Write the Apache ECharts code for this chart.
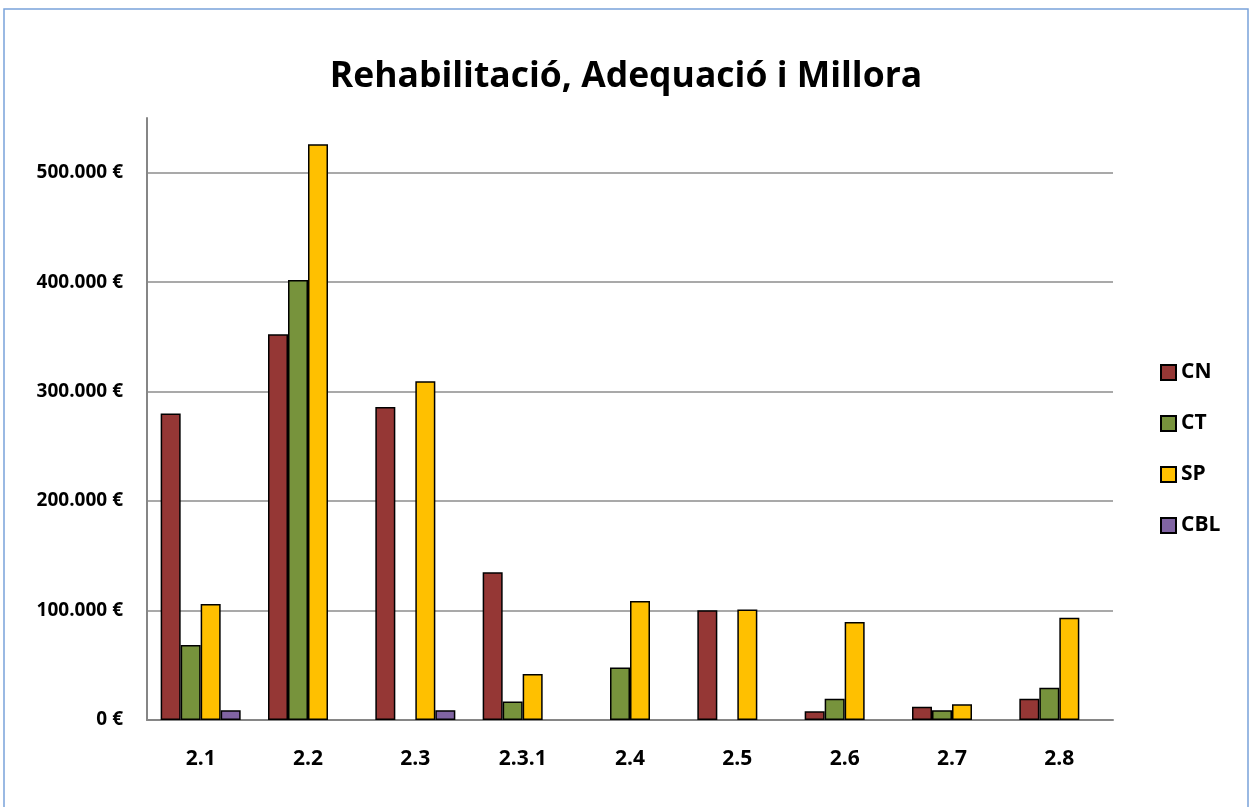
<!DOCTYPE html>
<html>
<head>
<meta charset="utf-8">
<script src="https://cdn.jsdelivr.net/npm/echarts@6/dist/echarts.min.js"></script>
<style>
html,body{margin:0;padding:0;background:#fff;}
#chart{width:1252px;height:807px;}
</style>
</head>
<body>
<div id="chart"></div>
<script>
const categories = ['2.1','2.2','2.3','2.3.1','2.4','2.5','2.6','2.7','2.8'];
const seriesNames = ['CN','CT','SP','CBL'];
// null = no bar for that category
const cnValues  = [280000, 352500, 286000, 135000, null, 100300, 8000, 12000, 19500];
const ctValues  = [68500, 402000, null, 17000, 48000, null, 19500, 9000, 29500];
const spValues  = [106000, 526000, 309600, 42000, 108700, 101000, 89500, 14300, 93400];
const cblValues = [9000, null, 9000, null, null, null, null, null, null];
const colors = ['#953735','#77933c','#ffc000','#8064a2'];
const yTicks = [0, 100000, 200000, 300000, 400000, 500000];

const FONT = '"Open Sans", sans-serif';
const chart = echarts.init(document.getElementById('chart'), null, {renderer:'canvas'});

function fmt(v){
  return String(v).replace(/\B(?=(\d{3})+(?!\d))/g, '.') + ' €';
}

const dataSets = [cnValues, ctValues, spValues, cblValues];
const series = seriesNames.map((n,i)=>({
  name:n, type:'bar', data:dataSets[i],
  barWidth:20, barGap:'0%',
  itemStyle:{color:colors[i], borderColor:'#000', borderWidth:1.5},
  emphasis:{disabled:true}
}));

chart.setOption({
  animation:false,
  backgroundColor:'#fff',
  textStyle:{fontFamily:FONT},
  title:{
    text:'Rehabilitació, Adequació i Millora',
    left:'center', top:54,
    textStyle:{fontFamily:FONT, fontWeight:'bold', fontSize:35.5, color:'#000'}
  },
  graphic:[{
    type:'rect', shape:{x:4, y:9, width:1244, height:800},
    style:{fill:'none', stroke:'#7aa3da', lineWidth:1.5}, silent:true
  }],
  legend:{
    orient:'vertical', left:1155, top:357,
    itemWidth:15, itemHeight:15, itemGap:30,
    icon:'rect',
    data:seriesNames,
    textStyle:{fontFamily:FONT, fontWeight:'bold', fontSize:21, color:'#000'}
  },
  grid:{left:147, right:139, top:118, bottom:87, containLabel:false},
  xAxis:{
    type:'category', data:categories,
    axisLine:{lineStyle:{color:'#868686', width:2}},
    axisTick:{show:false},
    axisLabel:{fontFamily:FONT, fontWeight:'bold', fontSize:21, color:'#000', margin:29}
  },
  yAxis:{
    type:'value', min:0, max:550000, interval:100000,
    axisLine:{show:true, lineStyle:{color:'#868686', width:2}},
    axisTick:{show:false},
    splitLine:{show:true, showMaxLine:false, lineStyle:{color:'#8c8c8c', width:1.5}},
    axisLabel:{
      fontFamily:FONT, fontWeight:'bold', fontSize:19, color:'#000', margin:24,
      showMaxLabel:false,
      formatter:function(v){ return yTicks.indexOf(v) >= 0 ? fmt(v) : ''; }
    }
  },
  series:series
});
</script>
</body>
</html>
